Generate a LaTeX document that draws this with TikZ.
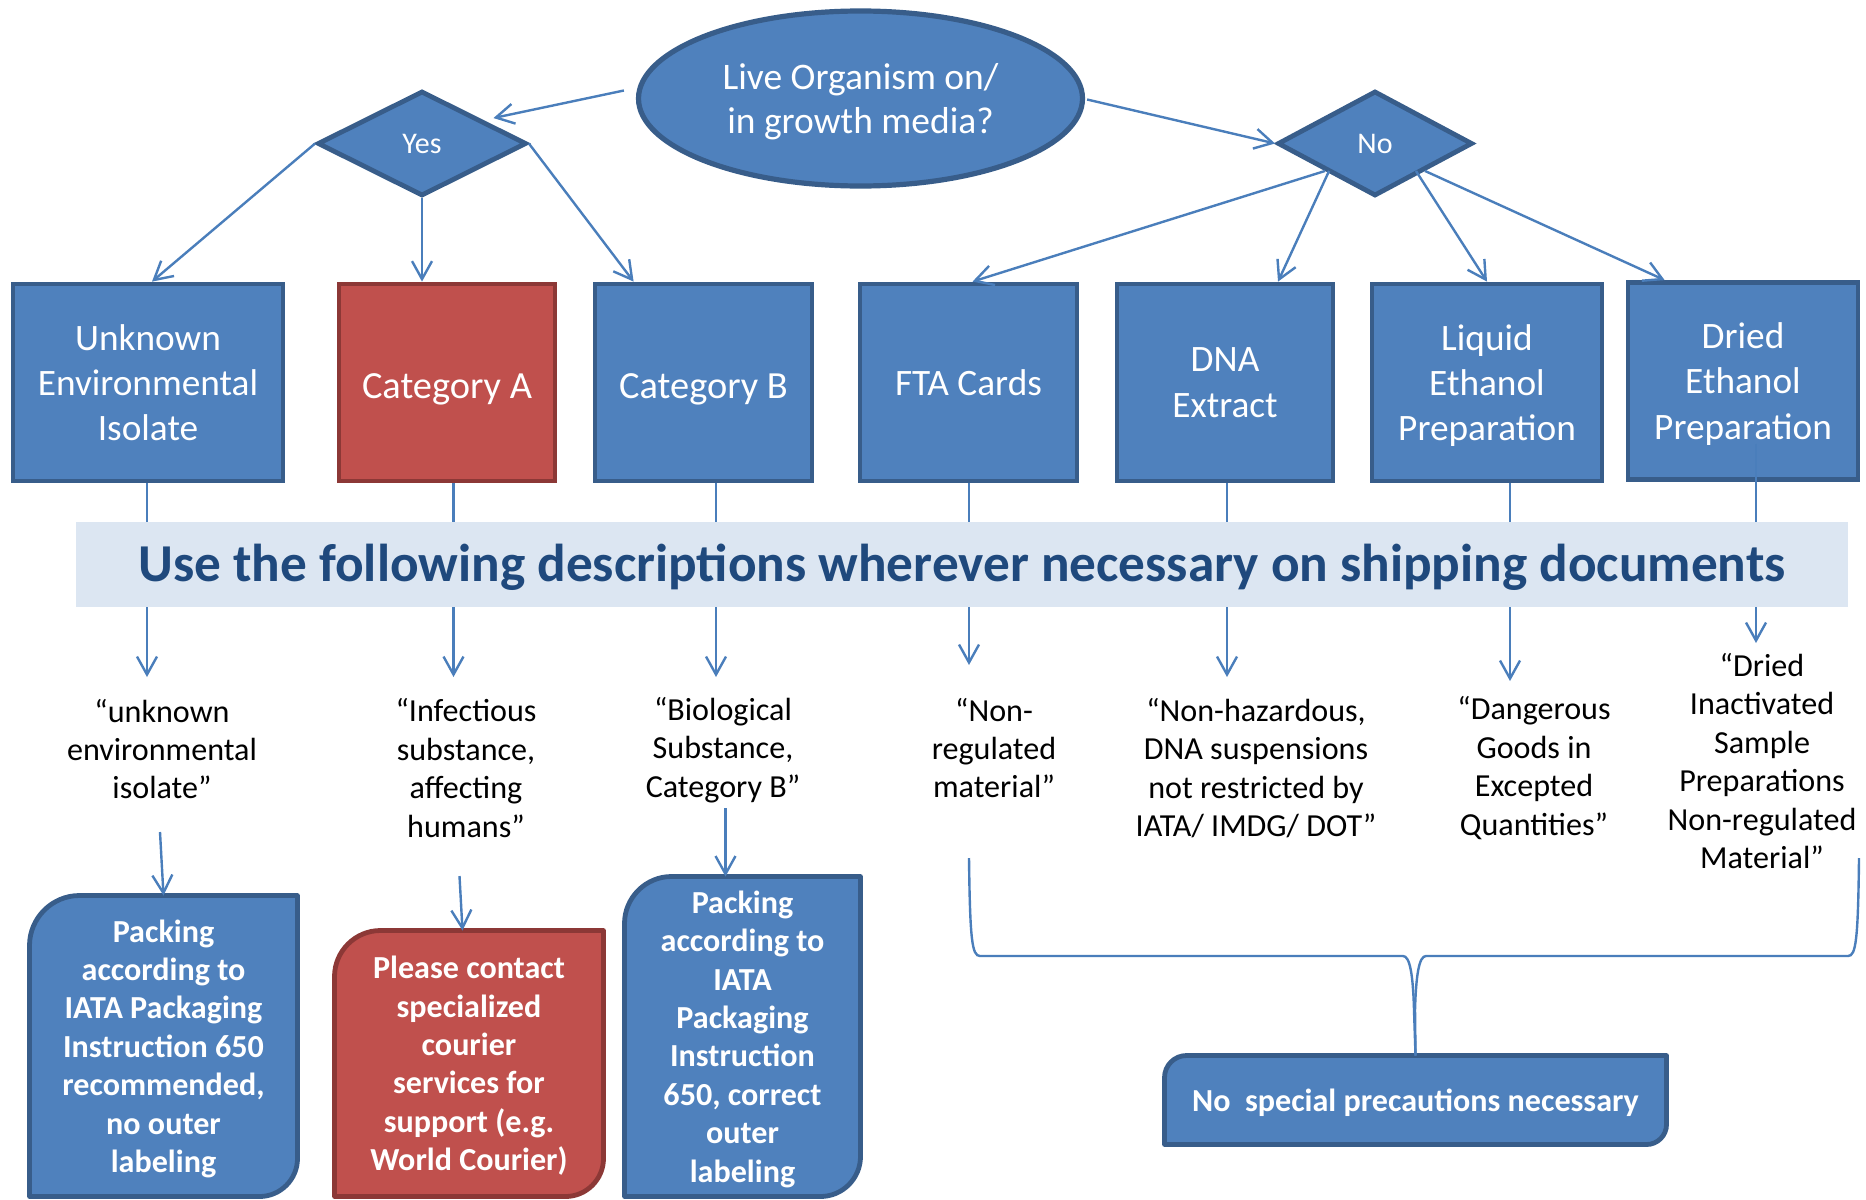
\documentclass[tikz,border=0pt]{standalone}
\usepackage{fontspec}
\setmainfont{Carlito}
\usetikzlibrary{shapes.geometric,arrows.meta,calc,backgrounds}
\definecolor{boxfill}{RGB}{79,129,189}
\definecolor{boxline}{RGB}{56,93,138}
\definecolor{redfill}{RGB}{192,80,77}
\definecolor{redline}{RGB}{140,56,54}
\definecolor{conn}{RGB}{74,126,187}
\definecolor{bandfill}{RGB}{220,230,242}
\definecolor{bandtext}{RGB}{31,73,125}
\newcommand\mkcornerbox[5]{%
  \begin{scope}[on background layer]
  \draw[line width=2.4pt, fill=#4, draw=#5, line join=round]
   ($(#1.north west)+(0,#2)$) .. controls ($(#1.north west)+(0,0.45*#2)$) and ($(#1.north west)+(0.45*#2,0)$) .. ($(#1.north west)+(#2,0)$)
   -- (#1.north east) -- ($(#1.south east)+(0,-#3)$)
   .. controls ($(#1.south east)+(0,-0.45*#3)$) and ($(#1.south east)+(-0.45*#3,0)$) .. ($(#1.south east)+(-#3,0)$)
   -- (#1.south west) -- cycle;
  \end{scope}}
\begin{document}
\begin{tikzpicture}[x=0.5pt,y=-0.5pt,
  topbox/.style={rectangle, draw=boxline, fill=boxfill, line width=2.4pt, minimum height=98.5pt, inner sep=0pt, align=center, text=white, text depth=0pt, font=\fontsize{18.65}{22.7}\selectfont},
  redbox/.style={topbox, draw=redline, fill=redfill},
  lab/.style={align=center, inner sep=0pt, font=\fontsize{16.05}{19.2}\selectfont},
  packtext/.style={align=center, inner sep=0pt, outer sep=0pt, text=white, text depth=0pt, font=\bfseries\fontsize{16.05}{19.2}\selectfont},
  arr/.style={draw=conn, line width=1.2pt, -{Straight Barb[length=9pt,width=10pt]}},
  ln/.style={draw=conn, line width=1.2pt},
  dia/.style={diamond, draw=boxline, fill=boxfill, line width=2.4pt, inner sep=0pt, text=white, font=\fontsize{15}{18}\selectfont}
]
\useasboundingbox (0,0) rectangle (1866,1199);

% top question
\node[ellipse, draw=boxline, fill=boxfill, line width=2.6pt, minimum width=222pt, minimum height=87.5pt, inner sep=0pt, align=center, text=white, text depth=0pt, font=\fontsize{18.75}{22}\selectfont] (ell) at (860.5,98.5) {Live Organism on/\\in growth media?};
\node[dia, minimum width=104.5pt, minimum height=52.5pt] (yes) at (422,143.5) {Yes};
\node[dia, minimum width=97.5pt, minimum height=52.5pt] (no) at (1375,143.5) {No};

% top boxes
\node[topbox, minimum width=135pt] (unk) at (148,382.5) {Unknown\\Environmental\\Isolate};
\node[redbox, minimum width=108pt, text height=16pt, font=\fontsize{19.2}{22.7}\selectfont] (catA) at (447,382.5) {Category A};
\node[topbox, minimum width=108.5pt, text height=16pt, font=\fontsize{19.2}{22.7}\selectfont] (catB) at (703.5,382.5) {Category B};
\node[topbox, minimum width=108.5pt] (fta) at (968.5,382.5) {FTA Cards};
\node[topbox, minimum width=108pt] (dna) at (1225,382.5) {DNA\\Extract};
\node[topbox, minimum width=115pt] (liq) at (1487,382.5) {Liquid\\Ethanol\\Preparation};
\node[topbox, minimum width=115pt] (dri) at (1743,381) {Dried\\Ethanol\\Preparation};

% arrows from question
\draw[arr] ([shift={(-12,-8)}]ell.west) -- ([shift={(18,2)}]yes.north east);
\draw[arr] ([shift={(2,1)}]ell.east) -- (no.west);
\draw[arr] (yes.west) -- ([xshift=2pt]unk.north);
\draw[arr] (yes.south) -- (yes.south |- catA.north);
\draw[arr] (yes.east) -- ([xshift=20.5pt]catB.north west);
\draw[arr] (no.south west) -- ([xshift=2pt]fta.north);
\draw[arr] ([xshift=2pt]no.south west) -- ([xshift=26.5pt]dna.north);
\draw[arr] ([xshift=-4.5pt]no.south east) -- (liq.north);
\draw[arr] (no.south east) -- ([xshift=19.5pt]dri.north west);

% vertical connectors to descriptions
\coordinate (t1) at (147,677);
\coordinate (t2) at (453.5,677);
\coordinate (t3) at (716,677);
\coordinate (t4) at (969,665);
\coordinate (t5) at (1227,677);
\coordinate (t6) at (1510,681);
\coordinate (t7) at (1756,643);
\draw[arr] (unk.south -| t1) -- (t1);
\draw[arr] (catA.south -| t2) -- (t2);
\draw[arr] (catB.south -| t3) -- (t3);
\draw[arr] (fta.south -| t4) -- (t4);
\draw[arr] (dna.south -| t5) -- (t5);
\draw[arr] (liq.south -| t6) -- (t6);
\draw[arr, shorten <=-19pt] (dri.south -| t7) -- (t7);

% band
\node[fill=bandfill, minimum width=886pt, minimum height=42.5pt, inner sep=0pt, text=bandtext, text depth=2pt, font=\bfseries\fontsize{26.65}{30}\selectfont] (band) at (962,564.5) {Use the following descriptions wherever necessary on shipping documents};

% descriptions
\node[lab] (l1) at (162,749) {“unknown\\environmental\\isolate”};
\node[lab] (l2) at (466,768) {“Infectious\\substance,\\affecting\\humans”};
\node[lab] (l3) at (723,750) {“Biological\\Substance,\\Category B”};
\node[lab] (l4) at (994,748) {“Non-\\regulated\\material”};
\node[lab] (l5) at (1256,768) {“Non-hazardous,\\DNA suspensions\\not restricted by\\IATA/ IMDG/ DOT”};
\node[lab] (l6) at (1534,768) {“Dangerous\\Goods in\\Excepted\\Quantities”};
\node[lab] (l7) at (1762,761) {“Dried\\Inactivated\\Sample\\Preparations\\Non-regulated\\Material”};

% packing boxes
\node[packtext, minimum width=134pt, minimum height=150.5pt] (pk1) at (163.5,1046) {Packing\\according to\\IATA Packaging\\Instruction 650\\recommended,\\no outer\\labeling};
\mkcornerbox{pk1}{50}{38}{boxfill}{boxline}
\node[packtext, minimum width=134.5pt, minimum height=133pt] (pk2) at (469,1063.5) {Please contact\\specialized\\courier\\services for\\support (e.g.\\World Courier)};
\mkcornerbox{pk2}{46}{38}{redfill}{redline}
\node[packtext, minimum width=118pt, minimum height=160pt] (pk3) at (742.5,1036.5) {Packing\\according to\\IATA\\Packaging\\Instruction\\650, correct\\outer\\labeling};
\mkcornerbox{pk3}{47}{40}{boxfill}{boxline}
\node[packtext, minimum width=251pt, minimum height=44.5pt] (nsp) at (1415.5,1100) {No~ special precautions necessary};
\mkcornerbox{nsp}{22}{20}{boxfill}{boxline}

\coordinate (s1) at (160,832);
\coordinate (s2) at (459.5,876);
\coordinate (s3) at (725.5,808);
\draw[arr] (s1) -- (pk1.north);
\draw[arr] (s2) -- ([xshift=-3.25pt]pk2.north);
\draw[arr] (s3) -- ([xshift=-8.5pt]pk3.north);

% brace
\coordinate (b1) at (969,858);
\coordinate (b2) at (1859,858);
\draw[ln] (b1) .. controls (970,940) and (972,956) .. (980,956) -- (1403,956)
  .. controls (1410,956) and (1413,975) .. (1414,1010) -- (nsp.north);
\draw[ln] (b2) .. controls (1858,940) and (1856,956) .. (1848,956) -- (1426,956)
  .. controls (1419,956) and (1416,975) .. (1415,1010) -- (nsp.north);
\end{tikzpicture}
\end{document}
